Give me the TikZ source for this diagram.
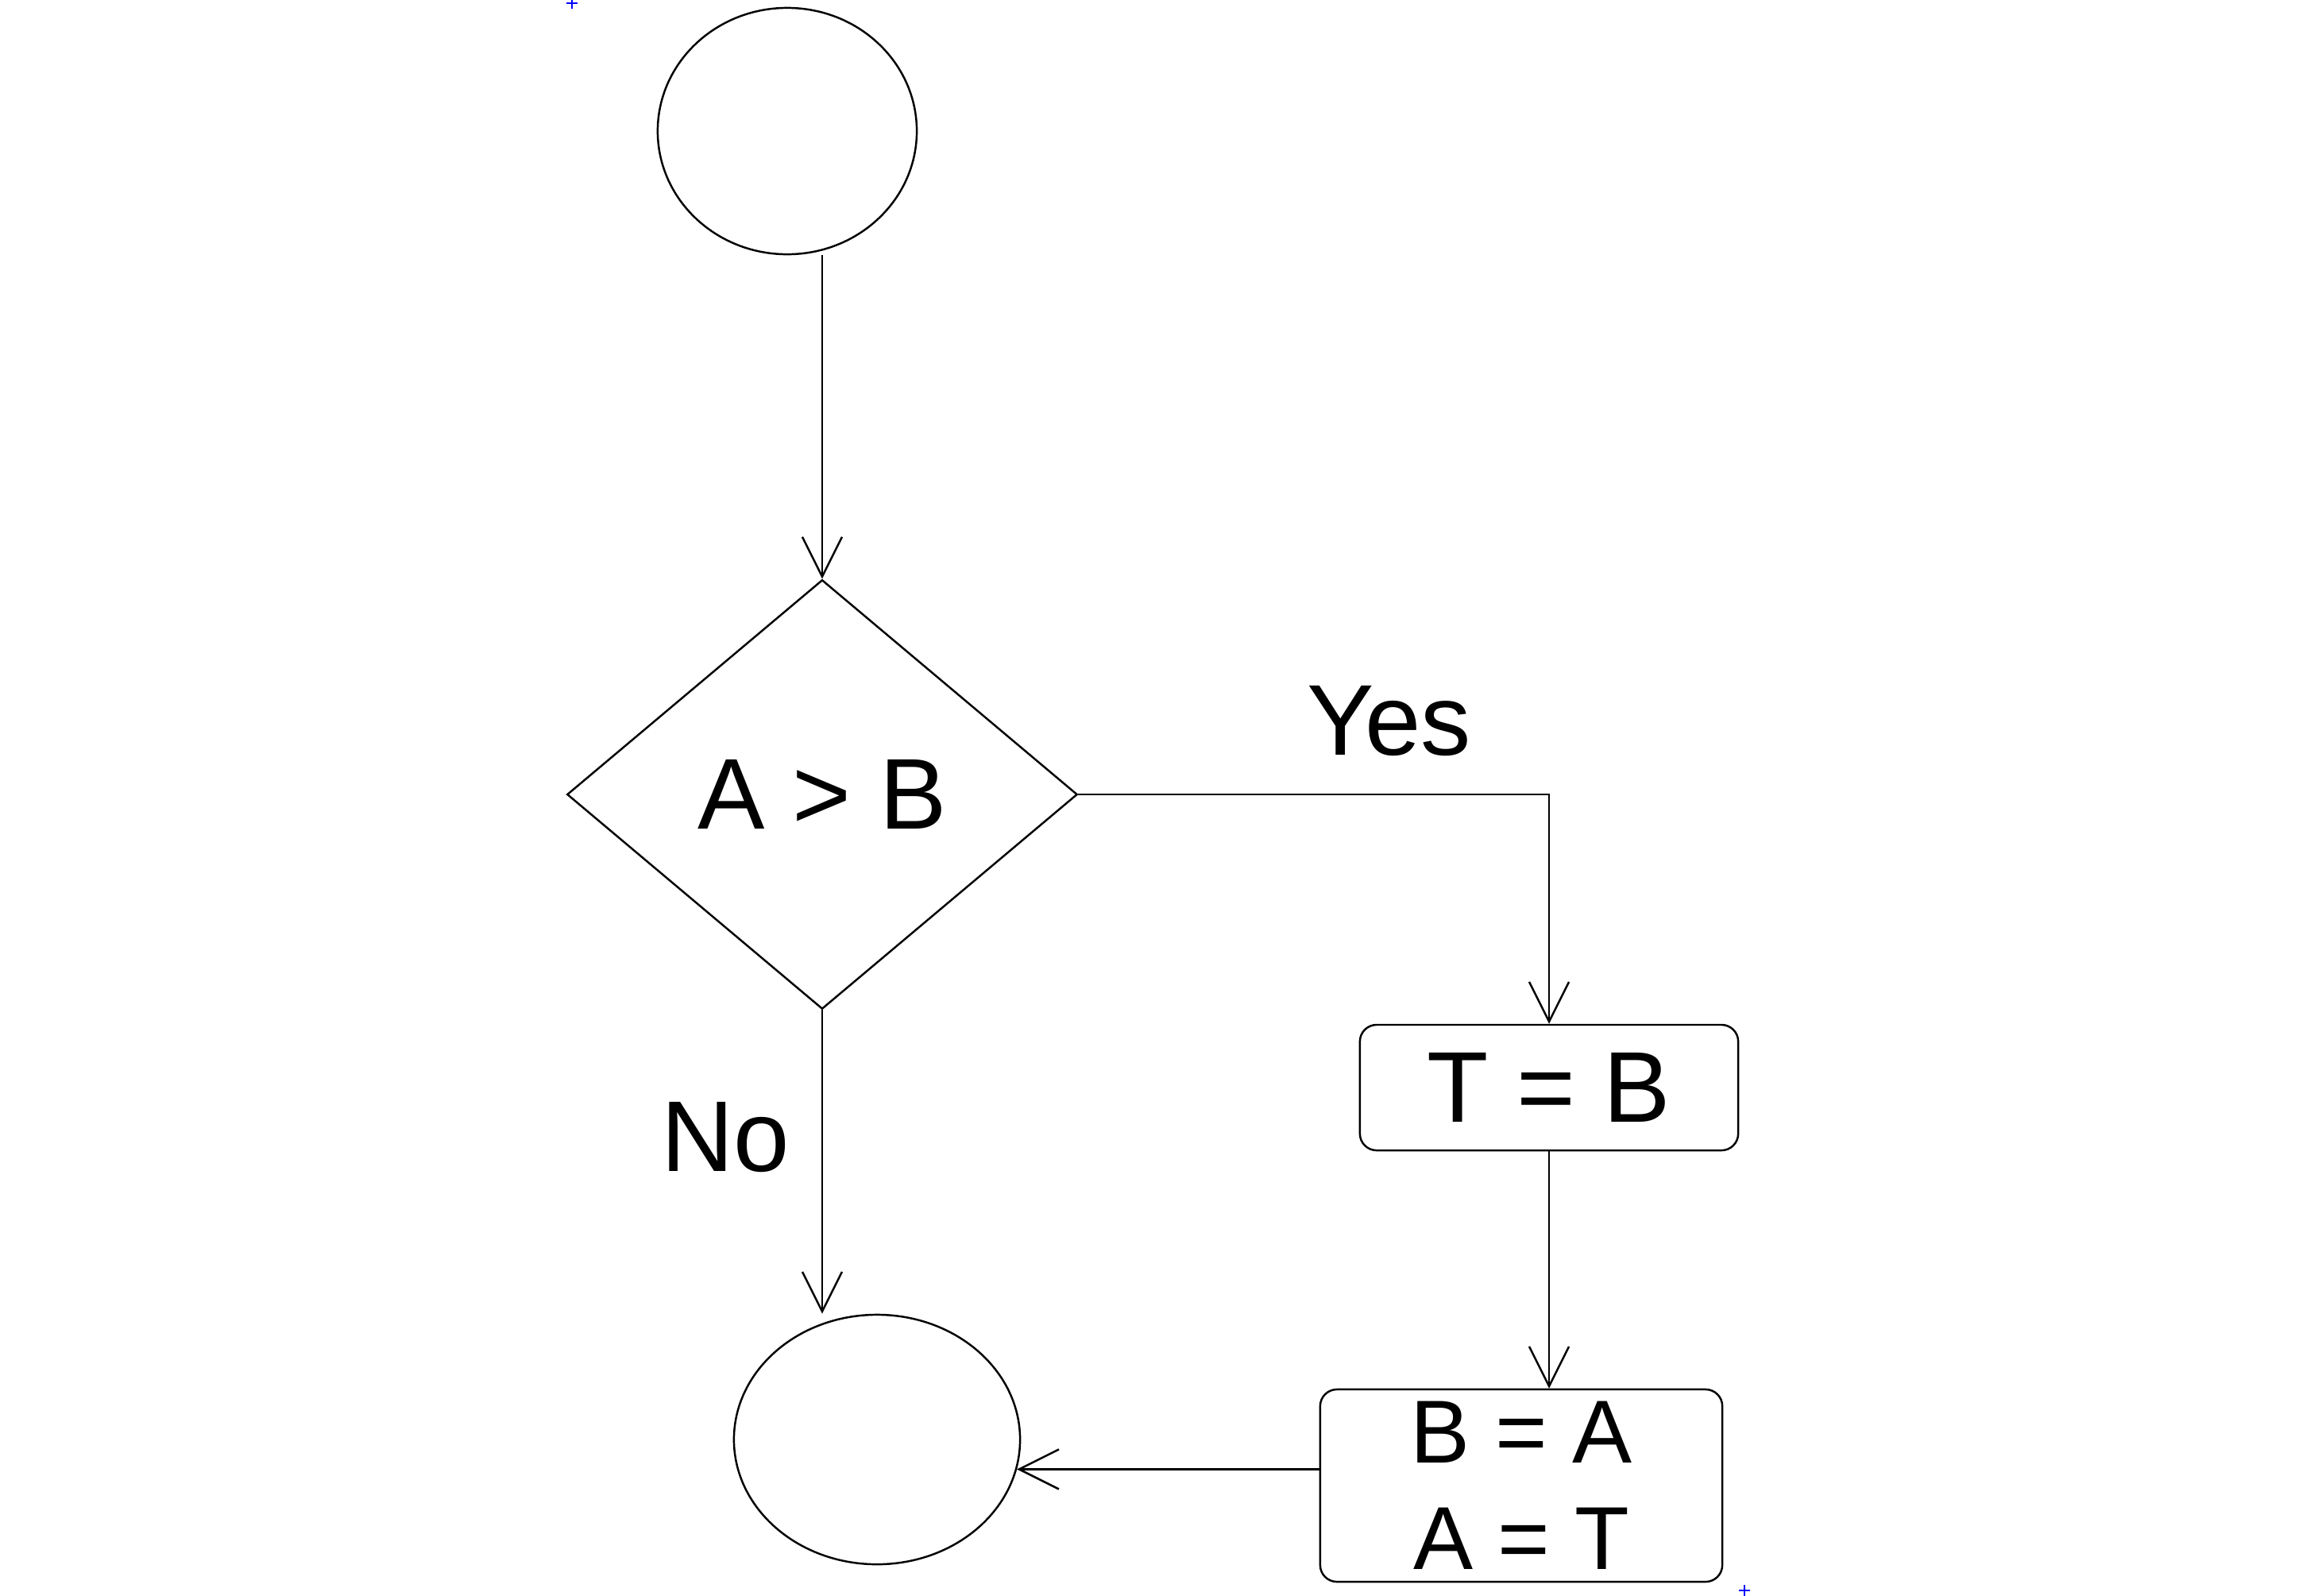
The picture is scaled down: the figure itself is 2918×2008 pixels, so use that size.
\documentclass[tikz,border=0pt]{standalone}
\usepackage{fontspec}
\setmainfont{Liberation Sans}
\usetikzlibrary{shapes.geometric,arrows.meta}
\begin{document}
\begin{tikzpicture}[x=0.01cm,y=-0.01cm,
  ink/.style={line width=0.7pt,draw=black},
  flow/.style={ink,-{Straight Barb[length=5mm,width=5mm]}},
  term/.style={ink,ellipse,inner sep=0pt},
  decide/.style={ink,diamond,inner sep=0pt},
  stepbox/.style={ink,rectangle,rounded corners=6pt,inner sep=0pt},
  lbl/.style={font=\fontsize{36}{44}\selectfont}]
  % page frame
  \useasboundingbox (0,0) rectangle (2918,2008);
  \fill[white] (0,0) rectangle (2918,2008);

  % nodes
  \node[term,minimum width=3.26cm,minimum height=3.10cm] (start) at (991,165) {};
  \node[decide,minimum width=6.42cm,minimum height=5.40cm,lbl] (cmp) at (1035,1000) {A > B};
  \node[stepbox,minimum width=4.76cm,minimum height=1.58cm,lbl] (tb) at (1950,1369) {T = B};
  \node[stepbox,minimum width=5.06cm,minimum height=2.42cm,align=center,
        font=\fontsize{32}{38}\selectfont]
       (swap) at (1915,1870) {B = A\\A = T};
  \node[term,minimum width=3.60cm,minimum height=3.14cm] (stop) at (1104,1812) {};

  % connectors
  \draw[flow] (start.south -| cmp.north) -- (cmp.north);
  \draw[flow] (cmp.east) -| (tb.north)
    node[pos=0.33,above=10pt,lbl] (yes) {Yes};
  \draw[flow] (tb.south) -- (tb.south |- swap.north);
  \draw[flow] (stop.-12 -| swap.west) -- (stop.-12);
  \draw[flow] (cmp.south) -- (cmp.south |- stop.north)
    node[pos=0.42,left=8pt,lbl] (no) {No};

  % small registration marks in two corners
  \coordinate (m1) at (720,4);
  \coordinate (m2) at (2196,2002);
  \foreach \m in {m1,m2}
    \draw[blue,line width=0.4pt] ([xshift=-2pt]\m) -- ([xshift=2pt]\m)
      ([yshift=-2pt]\m) -- ([yshift=2pt]\m);
\end{tikzpicture}
\end{document}
